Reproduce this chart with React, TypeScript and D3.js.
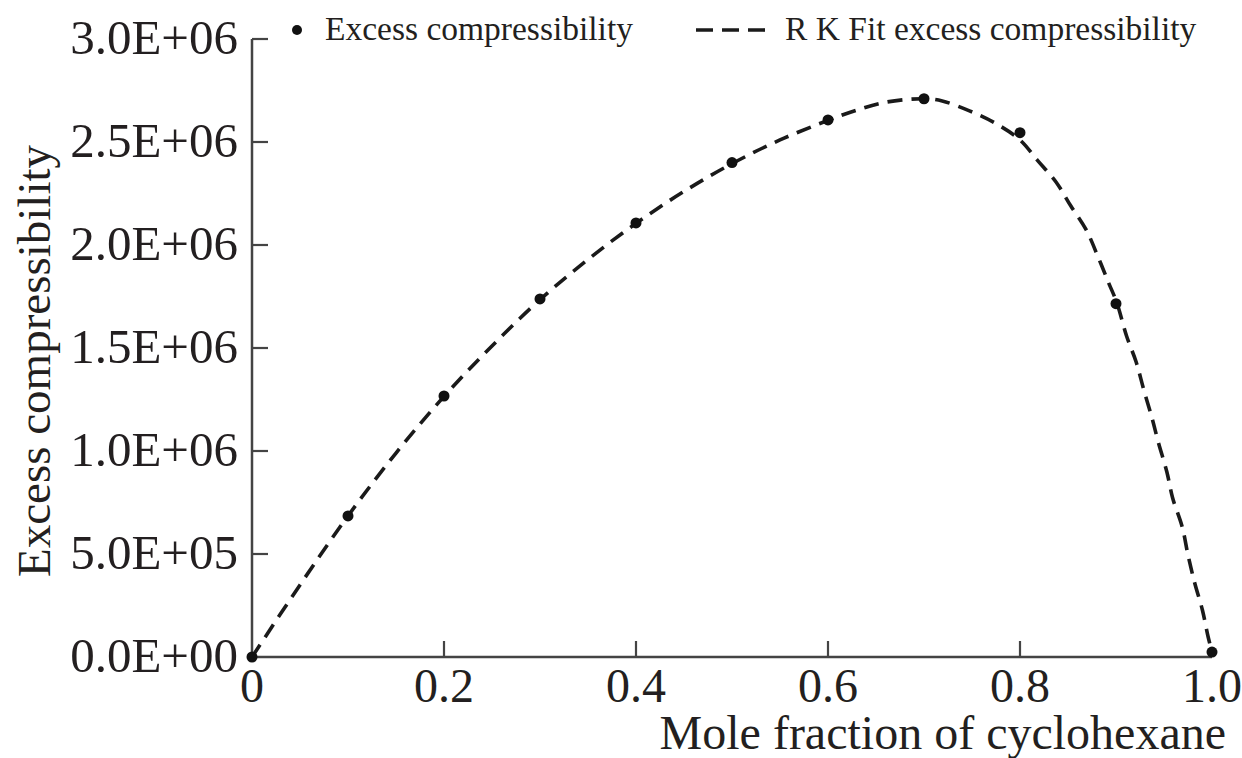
import React from "react";
import * as d3 from "d3";

const xTicks = [0, 0.2, 0.4, 0.6, 0.8, 1.0];
const xTickLabels = ["0", "0.2", "0.4", "0.6", "0.8", "1.0"];
const yTicks = [0, 5e5, 1e6, 1.5e6, 2e6, 2.5e6, 3e6];
const yTickLabels = ["0.0E+00", "5.0E+05", "1.0E+06", "1.5E+06", "2.0E+06", "2.5E+06", "3.0E+06"];

const moleFraction = [0, 0.1, 0.2, 0.3, 0.4, 0.5, 0.6, 0.7, 0.8, 0.9, 1.0];
const excessValues = [0, 6.85e5, 1.267e6, 1.738e6, 2.107e6, 2.40e6, 2.607e6, 2.71e6, 2.545e6, 1.715e6, 2.4e4];

const fitX = [0, 0.05, 0.1, 0.15, 0.2, 0.25, 0.3, 0.35, 0.4, 0.45, 0.5, 0.55, 0.6, 0.63, 0.661, 0.7, 0.719, 0.748, 0.774, 0.8, 0.818, 0.8375, 0.853, 0.869, 0.881, 0.892, 0.901, 0.911, 0.921, 0.929, 0.9375, 0.944, 0.953, 0.959, 0.969, 0.975, 0.982, 0.99, 0.996, 1.0];
const fitY = [0, 3.5e5, 6.85e5, 9.9e5, 1.265e6, 1.51e6, 1.735e6, 1.93e6, 2.105e6, 2.26e6, 2.395e6, 2.51e6, 2.605e6, 2.655e6, 2.694e6, 2.71e6, 2.699e6, 2.65e6, 2.592e6, 2.51e6, 2.412e6, 2.306e6, 2.189e6, 2.073e6, 1.946e6, 1.82e6, 1.718e6, 1.558e6, 1.432e6, 1.296e6, 1.16e6, 1.044e6, 0.898e6, 0.772e6, 0.631e6, 0.495e6, 0.359e6, 0.228e6, 0.097e6, 0.024e6];

const FONT = "'Liberation Serif', 'Times New Roman', serif";
const TEXT = "#231f20";
const AXIS = "#444";

export default function App() {
  const W = 1242, H = 758;
  const x = d3.scaleLinear().domain([0, 1]).range([252, 1212]);
  const y = d3.scaleLinear().domain([0, 3e6]).range([657, 39]);
  const fitPts: [number, number][] = fitX.map((v, i) => [v, fitY[i]]);
  const line = d3
    .line<[number, number]>()
    .x((d) => x(d[0]))
    .y((d) => y(d[1]))
    .curve(d3.curveCatmullRom.alpha(0.5));
  const tickLen = 16;
  return (
    <svg width={W} height={H} style={{ position: "absolute", left: 0, top: 0, background: "#fff" }}>
      <rect x={0} y={0} width={W} height={H} fill="#fff" />
      {/* fit curve */}
      <path d={line(fitPts) || ""} fill="none" stroke="#1a1a1a" strokeWidth={3.6} strokeDasharray="15 9" />
      {/* axes */}
      <line x1={x(0)} x2={x(1)} y1={y(0)} y2={y(0)} stroke={AXIS} strokeWidth={2.5} />
      <line x1={x(0)} x2={x(0)} y1={y(0)} y2={y(3e6)} stroke={AXIS} strokeWidth={2.5} />
      {xTicks.map((t, i) => (
        <g key={"xt" + i}>
          {i > 0 && i < xTicks.length - 1 && (
            <line x1={x(t)} x2={x(t)} y1={y(0)} y2={y(0) - tickLen} stroke={AXIS} strokeWidth={2.2} />
          )}
          <text x={x(t)} y={702} textAnchor="middle" fontFamily={FONT} fontSize={48} fill={TEXT}>
            {xTickLabels[i]}
          </text>
        </g>
      ))}
      {yTicks.map((t, i) => (
        <g key={"yt" + i}>
          {i > 0 && (
            <line x1={x(0)} x2={x(0) + tickLen} y1={y(t)} y2={y(t)} stroke={AXIS} strokeWidth={2.2} />
          )}
          <text x={238} y={y(t) + 15} textAnchor="end" fontFamily={FONT} fontSize={49} fill={TEXT}>
            {yTickLabels[i]}
          </text>
        </g>
      ))}
      {/* data points */}
      {moleFraction.map((m, i) => (
        <circle key={"p" + i} cx={x(m)} cy={y(excessValues[i])} r={5.5} fill="#111" />
      ))}
      {/* axis titles */}
      <text x={1226} y={749} textAnchor="end" fontFamily={FONT} fontSize={48} fill={TEXT}>
        Mole fraction of cyclohexane
      </text>
      <text
        transform={`translate(50, 361) rotate(-90)`}
        textAnchor="middle"
        fontFamily={FONT}
        fontSize={47}
        fill={TEXT}
      >
        Excess compressibility
      </text>
      {/* legend */}
      <circle cx={297} cy={30} r={5} fill="#111" />
      <text x={325} y={40} fontFamily={FONT} fontSize={33.5} fill={TEXT}>
        Excess compressibility
      </text>
      <line x1={696} x2={765} y1={30} y2={30} stroke="#1a1a1a" strokeWidth={3.6} strokeDasharray="17 9" />
      <text x={785} y={40} fontFamily={FONT} fontSize={33.5} fill={TEXT}>
        R K Fit excess compressibility
      </text>
    </svg>
  );
}
